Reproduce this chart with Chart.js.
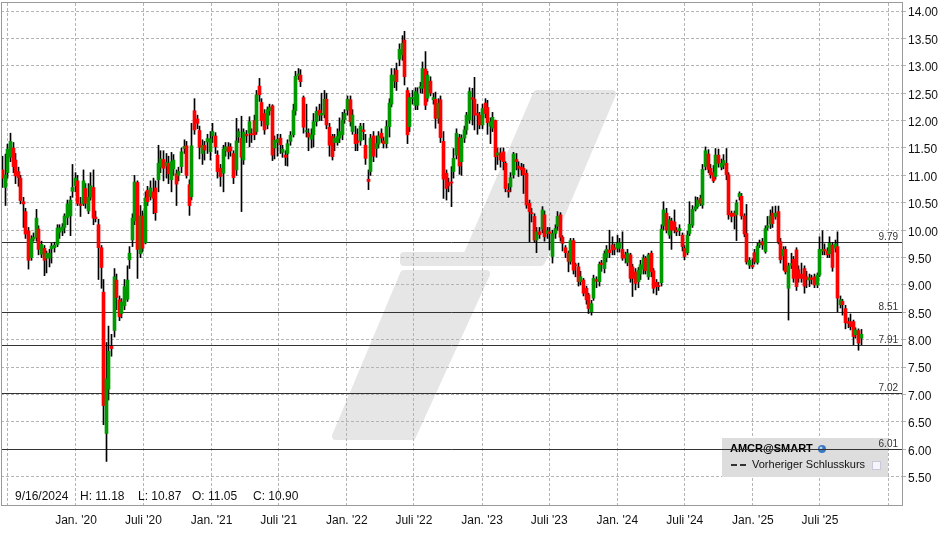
<!DOCTYPE html>
<html lang="de">
<head>
<meta charset="UTF-8">
<title>AMCR@SMART</title>
<script src="https://cdn.jsdelivr.net/npm/chart.js@4.4.1/dist/chart.umd.min.js"></script>
<style>
    html, body { margin: 0; padding: 0; background: #fff; }
    #play { width: 948px; height: 534px; }
</style>
</head>
<body>
<div id="play"><canvas id="myChart" width="948" height="534"></canvas></div>
<script>
    // Wochenkerzen AMCR, erste Kerze
    const firstWeek = '2019-06-17';

    const opens = [
        11.10, 10.78, 11.05, 11.33, 11.50, 11.28, 11.07, 10.95, 10.52, 10.34,
        9.99, 9.50, 9.84, 9.87, 10.02, 9.56, 9.67, 9.49, 9.49, 9.66,
        9.68, 9.74, 9.96, 9.99, 10.05, 10.23, 10.26, 10.71, 10.81, 10.90,
        10.48, 10.48, 10.76, 10.35, 10.60, 10.78, 10.24, 10.10, 9.68, 8.87,
        6.29, 7.10, 7.88, 8.17, 9.09, 8.73, 8.48, 8.62, 8.74, 9.46,
        9.82, 10.17, 10.87, 9.57, 10.26, 9.77, 10.73, 10.61, 10.70, 10.77,
        10.92, 11.15, 11.29, 11.17, 11.22, 10.92, 11.12, 11.03, 11.00, 11.16,
        11.49, 11.54, 10.83, 10.61, 12.18, 12.03, 11.82, 11.40, 11.55, 11.61,
        11.43, 11.72, 11.72, 11.37, 11.13, 11.04, 11.45, 11.52, 11.52, 11.40,
        11.10, 11.70, 11.68, 11.28, 11.75, 11.77, 11.76, 12.00, 11.80, 12.63,
        12.33, 12.13, 11.92, 12.18, 12.27, 11.50, 11.60, 11.68, 11.42, 11.37,
        11.40, 11.62, 11.74, 12.18, 12.82, 12.83, 12.42, 11.80, 11.77, 11.66,
        11.74, 11.98, 12.19, 12.10, 12.11, 12.39, 11.88, 11.71, 11.60, 11.60,
        11.68, 11.74, 12.02, 12.19, 12.38, 11.80, 11.75, 11.63, 11.63, 11.83,
        11.55, 10.93, 11.07, 11.72, 11.49, 11.57, 11.77, 11.63, 11.58, 11.89,
        12.30, 12.72, 12.92, 13.12, 13.20, 13.47, 12.55, 11.89, 12.40, 12.28,
        12.28, 12.59, 12.59, 12.94, 12.41, 12.72, 12.38, 12.39, 12.04, 12.38,
        11.62, 11.04, 10.87, 10.88, 11.07, 11.37, 11.69, 11.25, 11.68, 11.83,
        12.01, 12.42, 12.39, 12.13, 12.10, 11.92, 12.32, 12.24, 11.90, 11.86,
        12.00, 11.37, 11.41, 11.43, 11.22, 10.73, 10.79, 11.01, 11.29, 11.17,
        11.15, 11.13, 11.04, 10.49, 10.32, 10.25, 9.82, 9.97, 10.02, 10.28,
        9.94, 9.97, 9.52, 9.94, 10.07, 10.28, 9.87, 9.68, 9.58, 9.43,
        9.81, 9.37, 9.33, 9.06, 9.09, 8.94, 8.82, 8.51, 8.76, 9.10,
        9.06, 9.40, 9.30, 9.50, 9.64, 9.73, 9.68, 9.67, 9.67, 9.65,
        9.55, 9.41, 9.55, 9.33, 9.24, 9.06, 9.20, 9.29, 9.49, 9.15,
        9.58, 9.26, 9.05, 8.99, 9.04, 10.08, 10.31, 9.91, 10.17, 10.15,
        10.00, 9.99, 9.91, 9.67, 9.59, 9.94, 10.09, 10.38, 10.43, 10.58,
        10.46, 11.16, 11.39, 11.13, 11.05, 10.98, 11.37, 11.15, 11.19, 11.22,
        11.01, 10.31, 10.31, 10.28, 10.61, 10.62, 10.26, 9.94, 9.36, 9.36,
        9.59, 9.41, 9.73, 9.79, 9.61, 10.05, 10.11, 10.31, 10.25, 10.34,
        9.79, 9.53, 9.65, 8.94, 9.36, 9.47, 9.64, 9.28, 9.20, 9.30,
        9.15, 9.09, 9.13, 9.15, 9.00, 9.18, 9.62, 9.65, 9.62, 9.57,
        9.73, 9.67, 9.70, 8.64, 8.70, 8.57, 8.33, 8.33, 8.33, 8.09,
        8.17, 8.03
    ];
    const highs = [
        11.35, 11.39, 11.57, 11.77, 11.60, 11.40, 11.15, 11.00, 10.60, 10.40,
        10.05, 9.90, 9.95, 10.38, 10.08, 9.80, 9.72, 9.62, 9.65, 9.76,
        9.78, 10.10, 10.10, 10.12, 10.30, 10.55, 10.62, 11.20, 11.05, 11.00,
        10.60, 11.10, 10.85, 10.85, 11.05, 11.10, 10.35, 10.20, 9.72, 9.10,
        7.95, 8.25, 8.10, 9.30, 9.20, 8.80, 8.75, 9.10, 9.35, 9.70,
        10.30, 11.00, 10.90, 10.45, 10.35, 10.70, 10.80, 10.90, 10.95, 10.90,
        11.55, 11.45, 11.45, 11.40, 11.35, 11.42, 11.38, 11.10, 11.15, 11.50,
        11.65, 11.62, 10.92, 11.95, 12.40, 12.10, 11.90, 11.65, 11.62, 11.75,
        11.80, 11.95, 11.78, 11.45, 11.20, 11.55, 11.60, 11.60, 11.58, 11.45,
        12.04, 11.85, 12.08, 11.85, 11.82, 12.07, 11.85, 12.10, 12.55, 12.77,
        12.40, 12.20, 12.25, 12.30, 12.29, 11.72, 11.75, 11.75, 11.55, 11.45,
        11.65, 11.80, 12.30, 12.90, 12.95, 12.93, 12.45, 12.30, 11.85, 11.85,
        12.13, 12.25, 12.30, 12.50, 12.55, 12.50, 11.95, 11.75, 11.75, 11.85,
        12.05, 12.15, 12.20, 12.45, 12.45, 12.20, 11.90, 11.85, 11.95, 11.95,
        11.75, 11.10, 11.75, 11.80, 11.72, 11.80, 11.85, 11.70, 12.00, 12.40,
        12.95, 12.95, 13.05, 13.40, 13.55, 13.63, 12.60, 12.50, 12.55, 12.60,
        12.60, 12.70, 13.07, 13.26, 12.90, 12.80, 12.50, 12.52, 12.40, 12.45,
        11.80, 11.10, 10.95, 11.16, 11.49, 11.85, 11.75, 11.74, 11.90, 12.15,
        12.60, 12.59, 12.79, 12.30, 12.15, 12.30, 12.40, 12.37, 12.05, 12.15,
        12.01, 11.50, 11.50, 11.50, 11.25, 10.85, 11.05, 11.42, 11.40, 11.25,
        11.22, 11.20, 11.10, 10.55, 10.40, 10.30, 10.05, 10.05, 10.43, 10.35,
        10.05, 10.05, 10.00, 10.10, 10.34, 10.32, 9.90, 9.72, 9.62, 9.85,
        9.85, 9.40, 9.40, 9.25, 9.12, 8.98, 8.85, 8.72, 9.18, 9.15,
        9.42, 9.45, 9.62, 9.72, 10.00, 9.88, 9.75, 9.91, 9.85, 9.97,
        9.60, 9.65, 9.58, 9.38, 9.30, 9.32, 9.45, 9.55, 9.52, 9.58,
        9.62, 9.30, 9.10, 9.05, 10.10, 10.52, 10.40, 10.25, 10.22, 10.37,
        10.05, 10.10, 9.95, 9.72, 9.98, 10.52, 10.45, 10.61, 10.60, 10.64,
        11.20, 11.52, 11.47, 11.20, 11.18, 11.49, 11.48, 11.30, 11.38, 11.49,
        11.05, 10.35, 10.35, 10.55, 10.70, 10.67, 10.30, 10.47, 9.50, 9.48,
        9.65, 9.76, 9.82, 9.85, 10.08, 10.25, 10.37, 10.43, 10.44, 10.44,
        9.85, 9.70, 9.70, 9.40, 9.58, 9.52, 9.68, 9.35, 9.40, 9.35,
        9.25, 9.20, 9.18, 9.20, 9.22, 9.88, 9.99, 9.75, 9.68, 9.88,
        9.78, 9.82, 9.97, 8.80, 8.74, 8.63, 8.40, 8.47, 8.36, 8.22,
        8.20, 8.19
    ];
    const lows = [
        10.78, 10.45, 10.95, 11.25, 11.05, 10.85, 10.80, 10.48, 10.05, 9.85,
        9.29, 9.45, 9.80, 9.80, 9.55, 9.50, 9.17, 9.22, 9.33, 9.40,
        9.60, 9.70, 9.85, 9.90, 9.95, 10.10, 9.90, 10.60, 10.70, 10.45,
        10.25, 10.45, 10.40, 10.30, 10.55, 10.10, 10.15, 9.10, 8.94, 6.45,
        5.78, 6.90, 7.70, 8.05, 8.55, 8.35, 8.40, 8.55, 8.70, 9.30,
        9.70, 10.10, 9.12, 9.50, 9.60, 9.75, 10.45, 10.55, 10.30, 10.18,
        10.70, 11.05, 10.90, 10.95, 10.85, 10.70, 11.00, 10.45, 10.90, 11.05,
        11.40, 10.95, 10.27, 10.55, 11.75, 11.85, 11.30, 11.20, 11.28, 11.40,
        11.28, 11.60, 11.40, 10.95, 10.80, 10.70, 11.35, 11.30, 11.35, 10.85,
        11.00, 11.60, 10.34, 11.20, 11.60, 11.52, 11.60, 11.65, 11.75, 12.35,
        11.90, 11.75, 11.85, 12.10, 11.27, 11.30, 11.35, 11.40, 11.33, 11.18,
        11.17, 11.55, 11.70, 12.10, 12.75, 12.62, 11.77, 11.70, 11.45, 11.50,
        11.52, 11.90, 12.00, 12.00, 12.05, 11.85, 11.35, 11.28, 11.45, 11.55,
        11.60, 11.65, 11.95, 12.10, 11.90, 11.75, 11.45, 11.45, 11.55, 11.65,
        11.20, 10.74, 11.00, 11.25, 11.33, 11.50, 11.60, 11.50, 11.50, 11.70,
        12.25, 12.60, 12.55, 13.00, 13.10, 12.65, 11.58, 11.80, 12.30, 12.20,
        12.20, 12.50, 12.50, 12.20, 12.35, 12.45, 12.30, 11.86, 11.95, 11.60,
        10.58, 10.55, 10.70, 10.43, 10.95, 11.30, 11.02, 11.00, 11.60, 11.75,
        11.95, 11.92, 11.83, 11.75, 11.85, 11.85, 12.05, 11.75, 11.58, 11.80,
        11.10, 11.20, 11.15, 11.10, 10.70, 10.60, 10.70, 10.95, 11.10, 10.98,
        11.00, 10.67, 10.40, 9.79, 10.15, 9.78, 9.59, 9.85, 9.95, 9.80,
        9.85, 9.64, 9.40, 9.85, 10.00, 9.80, 9.62, 9.50, 9.24, 9.38,
        9.20, 9.15, 8.98, 9.00, 8.80, 8.65, 8.48, 8.45, 8.72, 8.95,
        8.98, 9.25, 9.22, 9.42, 9.50, 9.55, 9.55, 9.60, 9.60, 9.45,
        9.40, 9.35, 9.05, 8.79, 8.91, 8.95, 9.10, 9.20, 9.20, 9.10,
        9.15, 8.85, 8.82, 8.90, 8.98, 10.00, 9.95, 9.85, 9.65, 9.95,
        9.90, 9.90, 9.62, 9.46, 9.55, 9.90, 10.05, 10.35, 10.40, 10.45,
        10.40, 11.10, 11.05, 10.95, 10.87, 10.93, 11.15, 11.10, 11.12, 10.92,
        10.20, 10.15, 10.02, 9.81, 10.55, 10.20, 9.88, 9.38, 9.30, 9.30,
        9.38, 9.38, 9.68, 9.65, 9.58, 10.00, 10.03, 10.05, 10.20, 9.75,
        9.40, 9.27, 9.20, 8.36, 9.30, 9.05, 8.90, 9.05, 9.05, 8.85,
        8.95, 8.97, 9.02, 8.95, 8.95, 9.15, 9.55, 9.55, 9.50, 9.50,
        9.25, 9.60, 8.51, 8.58, 8.45, 8.20, 8.22, 8.18, 7.91, 8.03,
        7.81, 7.91
    ];
    const closes = [
        10.95, 11.01, 11.48, 11.62, 11.16, 10.99, 10.96, 10.54, 10.48, 9.93,
        9.45, 9.84, 9.87, 10.22, 9.65, 9.74, 9.45, 9.58, 9.58, 9.71,
        9.73, 10.04, 10.04, 10.06, 10.26, 10.48, 10.55, 10.78, 10.95, 10.49,
        10.45, 10.90, 10.49, 10.60, 10.81, 10.22, 10.21, 9.68, 9.32, 6.80,
        7.29, 7.79, 7.84, 9.15, 8.77, 8.42, 8.69, 8.97, 9.09, 9.58,
        10.22, 10.88, 9.65, 10.26, 9.67, 10.59, 10.52, 10.77, 10.58, 10.32,
        11.22, 11.30, 11.13, 11.24, 11.03, 11.25, 11.28, 10.84, 11.07, 11.43,
        11.53, 11.00, 10.45, 11.54, 11.83, 11.95, 11.51, 11.55, 11.46, 11.67,
        11.67, 11.80, 11.52, 11.07, 10.98, 11.48, 11.52, 11.43, 11.45, 10.96,
        11.63, 11.80, 11.33, 11.79, 11.72, 11.98, 11.74, 11.74, 12.47, 12.47,
        12.00, 11.83, 12.20, 12.24, 11.37, 11.64, 11.66, 11.56, 11.48, 11.33,
        11.58, 11.73, 12.19, 12.81, 12.85, 12.71, 11.88, 11.81, 11.70, 11.74,
        11.98, 12.17, 12.10, 12.13, 12.39, 11.92, 11.55, 11.34, 11.68, 11.71,
        11.80, 12.01, 12.13, 12.39, 11.98, 12.10, 11.58, 11.60, 11.90, 11.80,
        11.31, 10.89, 11.68, 11.35, 11.58, 11.72, 11.68, 11.58, 11.89, 12.32,
        12.83, 12.83, 12.71, 13.30, 13.41, 12.80, 11.74, 12.42, 12.42, 12.53,
        12.48, 12.62, 12.95, 12.28, 12.83, 12.50, 12.42, 12.04, 12.32, 11.69,
        10.93, 10.76, 10.81, 10.86, 11.31, 11.77, 11.17, 11.68, 11.83, 12.10,
        12.53, 12.39, 12.10, 12.10, 11.92, 12.22, 12.13, 11.96, 11.98, 12.06,
        11.34, 11.41, 11.28, 11.25, 10.76, 10.70, 10.96, 11.39, 11.25, 11.13,
        11.10, 11.01, 10.46, 10.34, 10.30, 9.82, 9.97, 9.92, 10.37, 9.88,
        9.99, 9.94, 9.94, 10.03, 10.25, 9.87, 9.76, 9.59, 9.43, 9.81,
        9.27, 9.35, 9.06, 9.15, 8.85, 8.73, 8.57, 8.66, 9.12, 9.07,
        9.38, 9.37, 9.57, 9.65, 9.59, 9.64, 9.65, 9.76, 9.77, 9.49,
        9.49, 9.58, 9.12, 9.12, 9.03, 9.27, 9.37, 9.49, 9.26, 9.55,
        9.24, 8.94, 8.97, 8.97, 10.02, 10.37, 10.00, 10.19, 10.00, 10.01,
        9.97, 10.03, 9.70, 9.52, 9.91, 10.11, 10.38, 10.43, 10.55, 10.49,
        11.11, 11.45, 11.11, 11.01, 10.90, 11.37, 11.22, 11.22, 11.27, 11.01,
        10.28, 10.25, 10.26, 10.50, 10.67, 10.26, 9.93, 9.42, 9.45, 9.33,
        9.42, 9.71, 9.76, 9.73, 10.03, 10.08, 10.26, 10.12, 10.31, 9.79,
        9.46, 9.65, 9.24, 9.35, 9.39, 9.12, 8.97, 9.12, 9.12, 8.98,
        9.10, 9.13, 9.10, 9.00, 9.18, 9.65, 9.65, 9.62, 9.55, 9.76,
        9.32, 9.75, 8.76, 8.73, 8.64, 8.31, 8.30, 8.24, 8.06, 8.18,
        7.94, 8.10
    ];

    // Achsen
    const tickDates = ['2019-07-01', '2020-01-01', '2020-07-01', '2021-01-01', '2021-07-01', '2022-01-01',
        '2022-07-01', '2023-01-01', '2023-07-01', '2024-01-01', '2024-07-01', '2025-01-01', '2025-07-01', '2026-01-01'];
    const tickLabels = ['', "Jan. '20", "Juli '20", "Jan. '21", "Juli '21", "Jan. '22",
        "Juli '22", "Jan. '23", "Juli '23", "Jan. '24", "Juli '24", "Jan. '25", "Juli '25", ''];
    const yTicks = [5.5, 6, 6.5, 7, 7.5, 8, 8.5, 9, 9.5, 10, 10.5, 11, 11.5, 12, 12.5, 13, 13.5, 14];
    const levels = [9.79, 8.51, 7.91, 7.02, 6.01];
    const info = { date: '9/16/2024', h: 11.18, l: 10.87, o: 11.05, c: 10.90 };

    const FONT = '"Liberation Sans", Arial, sans-serif';
    const dayOf = s => (Date.parse(s) - Date.parse('2020-01-01')) / 864e5;
    const x0 = dayOf(firstWeek);

    const bodies = opens.map((o, i) => ({ x: x0 + 7 * i, y: [o, closes[i]] }));
    const wicks = opens.map((o, i) => ({ x: x0 + 7 * i, y: [lows[i], highs[i]] }));
    const bodyColors = opens.map((o, i) => closes[i] >= o ? '#009a00' : '#ff0000');

    // Wasserzeichen
    const markUpper = [[537, 94], [612, 94], [541, 262], [404, 262], [404, 256], [467, 256]];
    const markLower = [[404, 274], [486, 274], [412, 436], [336, 436]];

    const noPad = s => { s.paddingTop = 0; s.paddingBottom = 0; s.paddingLeft = 0; s.paddingRight = 0; };

    const deco = {
        id: 'deco',
        beforeDraw(chart) {
            const ctx = chart.ctx;
            ctx.save();
            ctx.fillStyle = '#fff';
            ctx.fillRect(0, 0, chart.width, chart.height);
            ctx.fillStyle = '#e6e6e6';
            ctx.strokeStyle = '#e6e6e6';
            ctx.lineWidth = 8;
            ctx.lineJoin = 'round';
            [markUpper, markLower].forEach(pts => {
                ctx.beginPath();
                pts.forEach(([x, y], k) => k ? ctx.lineTo(x, y) : ctx.moveTo(x, y));
                ctx.closePath();
                ctx.fill();
                ctx.stroke();
            });
            ctx.restore();
        },
        beforeDatasetsDraw(chart) {
            const ctx = chart.ctx;
            const area = chart.chartArea;
            const ys = chart.scales.y;
            // Kerzen auf ganze Pixel
            chart.getDatasetMeta(0).data.forEach(b => { b.x = Math.floor(b.x) + 0.5; });
            chart.getDatasetMeta(1).data.forEach(b => { b.x = Math.floor(b.x) + 0.5; });

            ctx.save();
            // Legende
            ctx.fillStyle = '#dddddd';
            ctx.fillRect(722, 438, 166, 39);
            ctx.fillStyle = '#000';
            ctx.font = 'bold 11px ' + FONT;
            ctx.textBaseline = 'middle';
            ctx.fillText('AMCR@SMART', 730, 449);
            ctx.beginPath();
            ctx.arc(822, 449, 4, 0, Math.PI * 2);
            ctx.fillStyle = '#3b78c4';
            ctx.fill();
            ctx.beginPath();
            ctx.arc(821, 448, 1.5, 0, Math.PI * 2);
            ctx.fillStyle = '#b8d4f2';
            ctx.fill();
            ctx.strokeStyle = '#333';
            ctx.lineWidth = 2;
            ctx.beginPath();
            ctx.moveTo(731, 465); ctx.lineTo(737, 465);
            ctx.moveTo(740, 465); ctx.lineTo(746, 465);
            ctx.stroke();
            ctx.fillStyle = '#111';
            ctx.font = '11px ' + FONT;
            ctx.fillText('Vorheriger Schlusskurs', 752, 465);
            ctx.fillStyle = '#f4f4fa';
            ctx.fillRect(872.5, 461.5, 8, 8);
            ctx.strokeStyle = '#c8c8d8';
            ctx.lineWidth = 1;
            ctx.strokeRect(872.5, 461.5, 8, 8);

            // Kurslinien
            ctx.strokeStyle = '#333';
            ctx.lineWidth = 1;
            levels.forEach(v => {
                const y = Math.round(ys.getPixelForValue(v)) + 0.5;
                ctx.beginPath();
                ctx.moveTo(area.left, y);
                ctx.lineTo(area.right, y);
                ctx.stroke();
            });
            ctx.restore();
        },
        afterDatasetsDraw(chart) {
            const ctx = chart.ctx;
            const area = chart.chartArea;
            const ys = chart.scales.y;
            ctx.save();
            ctx.fillStyle = '#333';
            ctx.font = '10px ' + FONT;
            ctx.textAlign = 'right';
            ctx.textBaseline = 'bottom';
            levels.forEach(v => {
                const y = Math.round(ys.getPixelForValue(v));
                ctx.fillText(v.toFixed(2), area.right - 4, y);
            });

            ctx.textAlign = 'left';
            ctx.textBaseline = 'middle';
            ctx.fillStyle = '#111';
            ctx.font = '12px ' + FONT;
            ctx.fillText(info.date, 15, 497);
            ctx.fillText('H: ' + info.h.toFixed(2), 80, 497);
            ctx.fillText('L: ' + info.l.toFixed(2), 138, 497);
            ctx.fillText('O: ' + info.o.toFixed(2), 192, 497);
            ctx.fillText('C: ' + info.c.toFixed(2), 253, 497);

            ctx.strokeStyle = '#9a9a9a';
            ctx.lineWidth = 1;
            ctx.strokeRect(Math.round(area.left) + 0.5, Math.round(area.top) - 0.5,
                Math.round(area.right - area.left), Math.round(area.bottom - area.top) + 1);
            ctx.restore();
        }
    };

    const ctx = document.getElementById('myChart');
    const amcrChart = new Chart(ctx, {
        type: 'bar',
        data: {
            datasets: [{
                label: 'Körper',
                data: bodies,
                backgroundColor: bodyColors,
                barThickness: 3,
                minBarLength: 1,
                grouped: false,
                order: 0
            }, {
                label: 'Docht',
                data: wicks,
                backgroundColor: '#000',
                barThickness: 1,
                grouped: false,
                order: 1
            }]
        },
        options: {
            responsive: false,
            animation: false,
            devicePixelRatio: 1,
            layout: { padding: { left: 1, top: 3, right: 0, bottom: 0 } },
            plugins: {
                legend: { display: false },
                tooltip: { enabled: false }
            },
            scales: {
                x: {
                    type: 'linear',
                    min: -202.4,
                    max: 2229.4,
                    offset: false,
                    afterBuildTicks: s => { s.ticks = tickDates.map(d => ({ value: dayOf(d) })); },
                    afterFit: s => { s.height = 29; noPad(s); },
                    grid: { offset: false, color: '#b4b4b4', lineWidth: 1, drawTicks: false },
                    border: { display: false, dash: [3, 2] },
                    ticks: {
                        autoSkip: false,
                        maxRotation: 0,
                        padding: 8,
                        color: '#111',
                        font: { family: FONT, size: 12 },
                        callback: (value, index) => tickLabels[index]
                    }
                },
                y: {
                    position: 'right',
                    min: 4.985,
                    max: 14.146,
                    afterBuildTicks: s => { s.ticks = yTicks.map(v => ({ value: v })); },
                    afterFit: s => { s.width = 46; noPad(s); },
                    grid: { color: '#b4b4b4', lineWidth: 1, tickLength: 4 },
                    border: { display: false, dash: [3, 2] },
                    ticks: {
                        padding: 2,
                        labelOffset: 2,
                        color: '#111',
                        font: { family: FONT, size: 12 },
                        callback: value => value.toFixed(2)
                    }
                }
            }
        },
        plugins: [deco]
    });
</script>
</body>
</html>
